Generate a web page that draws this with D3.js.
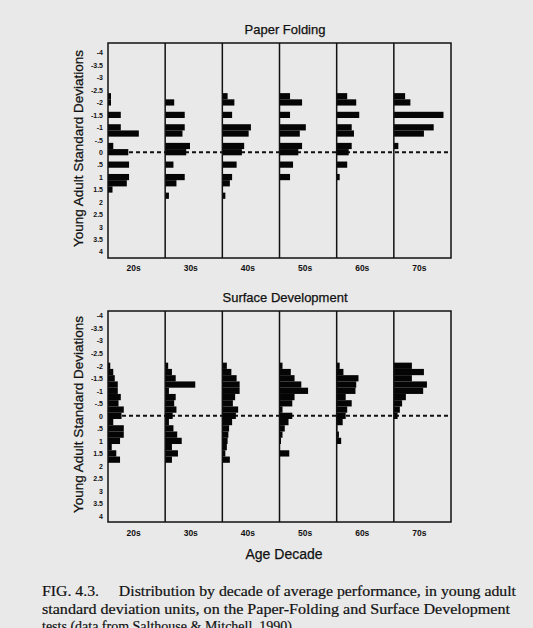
<!DOCTYPE html>
<html>
<head>
<meta charset="utf-8">
<script src="https://cdn.jsdelivr.net/npm/d3@7"></script>
<style>
  html, body { margin: 0; padding: 0; background: #e9e9e9; }
  svg { display: block; }
</style>
</head>
<body>
<svg id="chart" width="533" height="628"></svg>
<script>
// Age decades (one panel per decade)
const decades = ["20s", "30s", "40s", "50s", "60s", "70s"];

// Y axis: young-adult standard deviation units
const yTickValues = [-4, -3.5, -3, -2.5, -2, -1.5, -1, -0.5, 0, 0.5, 1, 1.5, 2, 2.5, 3, 3.5, 4];
const yTickLabels = ["-4", "-3.5", "-3", "-2.5", "-2", "-1.5", "-1", "-.5", "0", ".5", "1", "1.5", "2", "2.5", "3", "3.5", "4"];

// Paper Folding: bin centres (SD units) and percent of each decade in every bin
const paperBins = [-2.25, -2, -1.75, -1.5, -1.25, -1, -0.75, -0.5, -0.25, 0, 0.25, 0.5, 0.75, 1, 1.25, 1.5, 1.75];
const paper20s = [2, 2, 0, 8.5, 0, 8.5, 20.5, 0, 3.5, 13.5, 0, 14, 0, 14, 12.5, 3, 0];
const paper30s = [0, 6, 0, 13, 0, 13, 11.5, 0, 16.5, 14, 0, 5.5, 0, 13, 7.5, 0, 2.5];
const paper40s = [3.5, 8, 0, 6.5, 0, 19, 17.5, 0, 14.5, 13, 0, 9.5, 0, 6.5, 5, 0, 2];
const paper50s = [7, 15, 0, 7, 0, 17.5, 13.5, 0, 15, 12.5, 0, 9, 0, 7, 0, 0, 0];
const paper60s = [7, 13, 0, 15, 0, 10, 11.5, 0, 10, 8, 0, 7, 0, 2, 0, 0, 0];
const paper70s = [7.5, 11, 0, 33, 0, 26.5, 20, 0, 3, 0, 0, 0, 0, 0, 0, 0, 0];

// Surface Development: bin centres (SD units) and percent of each decade in every bin
const surfaceBins = [-2, -1.75, -1.5, -1.25, -1, -0.75, -0.5, -0.25, 0, 0.25, 0.5, 0.75, 1, 1.25, 1.5, 1.75];
const surface20s = [1.5, 3.5, 4.5, 6.5, 6.5, 8.5, 7, 10.5, 9, 3.5, 10.5, 10.5, 8, 2.5, 5.5, 8];
const surface30s = [2, 4.5, 7, 20, 2.5, 7, 6, 7.5, 5, 2.5, 5.5, 8, 11, 4.5, 8.5, 4.5];
const surface40s = [3, 6, 9.5, 11.5, 11.5, 8.5, 7, 10.5, 9, 6.5, 4.5, 4, 3.5, 3, 2, 5];
const surface50s = [2, 7.5, 10, 14.5, 19, 10, 8.5, 2, 8.5, 6, 3.5, 2, 1, 0, 6.5, 0];
const surface60s = [2, 4.5, 14.5, 13, 12.5, 6, 10, 7, 6, 4, 0.5, 1.5, 3, 0, 0, 0];
const surface70s = [12, 20, 12, 22, 19.5, 8, 5.5, 4, 2.5, 0, 0, 0, 0, 0, 0, 0];

const panels = [
  { title: "Paper Folding", bins: paperBins, binWidth: 0.25,
    series: [paper20s, paper30s, paper40s, paper50s, paper60s, paper70s],
    frame: [43, 258], yRange: [52.7, 251.7], titleY: 34, labelY: 271 },
  { title: "Surface Development", bins: surfaceBins, binWidth: 0.25,
    series: [surface20s, surface30s, surface40s, surface50s, surface60s, surface70s],
    frame: [311, 522], yRange: [315.7, 516], titleY: 302, labelY: 536 }
];

const svg = d3.select("#chart");
const ink = "#111";
const sans = "'Liberation Sans', Arial, Helvetica, sans-serif";

const x = d3.scaleBand().domain(decades).range([108, 451]).padding(0);
const pct = d3.scaleLinear().domain([0, 38]).range([0, x.bandwidth()]);

panels.forEach(p => {
  const g = svg.append("g");
  const y = d3.scaleLinear().domain([-4, 4]).range(p.yRange);

  // panel title
  g.append("text")
    .attr("x", 285).attr("y", p.titleY)
    .attr("text-anchor", "middle")
    .attr("font-family", sans).attr("font-size", 13)
    .attr("fill", ink).attr("stroke", ink).attr("stroke-width", 0.25)
    .text(p.title);

  // y axis tick labels
  const yAxis = d3.axisLeft(y)
    .tickValues(yTickValues)
    .tickSize(0).tickPadding(5)
    .tickFormat((d, i) => yTickLabels[i]);
  const ya = g.append("g").attr("transform", "translate(108,0)").call(yAxis);
  ya.select(".domain").remove();
  ya.selectAll("text")
    .attr("font-family", sans).attr("font-size", 7).attr("font-weight", "bold")
    .attr("fill", ink);

  // y axis title
  const yMid = (p.frame[0] + p.frame[1]) / 2;
  g.append("text")
    .attr("transform", `translate(83,${yMid - 2}) rotate(-90)`)
    .attr("text-anchor", "middle")
    .attr("font-family", sans).attr("font-size", 13.5)
    .attr("fill", ink).attr("stroke", ink).attr("stroke-width", 0.25)
    .text("Young Adult Standard Deviations");

  // zero reference line
  g.append("line")
    .attr("x1", 108).attr("x2", 451)
    .attr("y1", y(0)).attr("y2", y(0))
    .attr("stroke", ink).attr("stroke-width", 2)
    .attr("stroke-dasharray", "4,3");

  // histogram bars for each decade
  decades.forEach((dec, di) => {
    const vals = p.series[di];
    g.append("g")
      .selectAll("rect")
      .data(p.bins.map((b, i) => ({ b, v: vals[i] })).filter(d => d.v > 0))
      .join("rect")
      .attr("x", x(dec))
      .attr("y", d => y(d.b - p.binWidth / 2))
      .attr("width", d => pct(d.v))
      .attr("height", d => y(d.b + p.binWidth / 2) - y(d.b - p.binWidth / 2))
      .attr("fill", "#050505");
  });

  // frame and decade dividers
  g.append("rect")
    .attr("x", 108).attr("y", p.frame[0])
    .attr("width", 451 - 108).attr("height", p.frame[1] - p.frame[0])
    .attr("fill", "none").attr("stroke", ink).attr("stroke-width", 1.5);
  g.append("g")
    .selectAll("line")
    .data(decades.slice(1))
    .join("line")
    .attr("x1", d => x(d)).attr("x2", d => x(d))
    .attr("y1", p.frame[0]).attr("y2", p.frame[1])
    .attr("stroke", ink).attr("stroke-width", 1.5);

  // decade labels
  const xAxis = d3.axisBottom(x).tickSize(0).tickPadding(0);
  const xa = g.append("g").attr("transform", `translate(-3,${p.labelY - 6})`).call(xAxis);
  xa.select(".domain").remove();
  xa.selectAll("text")
    .attr("font-family", sans).attr("font-size", 8.5).attr("font-weight", "bold")
    .attr("fill", ink);
});

// x axis title
svg.append("text")
  .attr("x", 284).attr("y", 559)
  .attr("text-anchor", "middle")
  .attr("font-family", sans).attr("font-size", 14)
  .attr("fill", ink).attr("stroke", ink).attr("stroke-width", 0.25)
  .text("Age Decade");

// figure caption
const serif = "'Liberation Serif', 'Times New Roman', serif";
const caption = [
  { t: "FIG. 4.3.\u2003 Distribution by decade of average performance, in young adult", y: 596, len: 474 },
  { t: "standard deviation units, on the Paper-Folding and Surface Development", y: 613.5, len: 468 },
  { t: "tests (data from Salthouse & Mitchell, 1990).", y: 631, len: null }
];
caption.forEach(c => {
  const t = svg.append("text")
    .attr("x", 42).attr("y", c.y)
    .attr("font-family", serif).attr("font-size", 14)
    .attr("fill", ink).attr("stroke", ink).attr("stroke-width", 0.2)
    .text(c.t);
  if (c.len) t.attr("textLength", c.len).attr("lengthAdjust", "spacingAndGlyphs");
});
</script>
</body>
</html>
